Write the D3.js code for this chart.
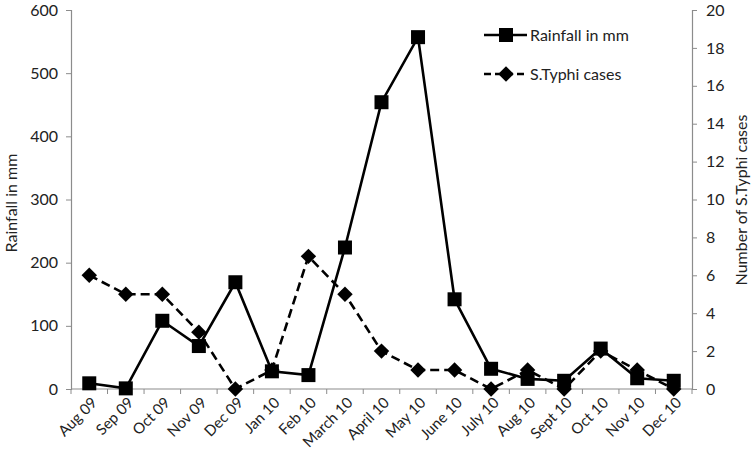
<!DOCTYPE html>
<html>
<head>
<meta charset="utf-8">
<script src="https://cdn.jsdelivr.net/npm/d3@7"></script>
<style>
body { margin:0; background:#fff; }
text { font-family: Lato, "Open Sans", sans-serif; fill:#222; }
</style>
</head>
<body>
<script>
var months = ['Aug 09','Sep 09','Oct 09','Nov 09','Dec 09','Jan 10','Feb 10','March 10','April 10',
  'May 10','June 10','July 10','Aug 10','Sept 10','Oct 10','Nov 10','Dec 10'];
var rainfall = [9, 1, 108, 68, 169, 28, 22, 224, 454, 557, 142, 32, 16, 13, 64, 17, 13];
var cases = [6, 5, 5, 3, 0, 1, 7, 5, 2, 1, 1, 0, 1, 0, 2, 1, 0];
var rainTicks = [0, 100, 200, 300, 400, 500, 600];
var caseTicks = [0, 2, 4, 6, 8, 10, 12, 14, 16, 18, 20];

var params = {width:754, height:463, left:71, right:692, top:10, bottom:389};

var svg = d3.select('body').append('svg')
  .attr('width', params.width).attr('height', params.height);

var x = d3.scaleBand().domain(months).range([params.left, params.right]);
var yL = d3.scaleLinear().domain([0, 600]).range([params.bottom, params.top]);
var yR = d3.scaleLinear().domain([0, 20]).range([params.bottom, params.top]);
var cx = function(d, i) { return x(months[i]) + x.bandwidth() / 2; };

// axes
var axisCol = '#8c8c8c';
var gl = svg.append('g').attr('transform', 'translate(' + params.left + ',0)')
  .call(d3.axisLeft(yL).tickValues(rainTicks).tickSize(5).tickPadding(8));
var gr = svg.append('g').attr('transform', 'translate(' + params.right + ',0)')
  .call(d3.axisRight(yR).tickValues(caseTicks).tickSize(5).tickPadding(9));
[gl, gr].forEach(function(g) {
  g.select('.domain').attr('stroke', axisCol).attr('stroke-width', 1.2);
  g.selectAll('.tick line').attr('stroke', axisCol);
  g.selectAll('.tick text').style('font-size', '16px').attr('fill', '#222');
});

// x axis: ticks on category boundaries
var gx = svg.append('g');
gx.append('line').attr('x1', params.left).attr('x2', params.right)
  .attr('y1', params.bottom).attr('y2', params.bottom)
  .attr('stroke', axisCol).attr('stroke-width', 1.2);
gx.selectAll('.bt').data(months.concat(['end'])).enter().append('line')
  .attr('x1', function(d, i) { return params.left + i * x.bandwidth(); })
  .attr('x2', function(d, i) { return params.left + i * x.bandwidth(); })
  .attr('y1', params.bottom).attr('y2', params.bottom + 5)
  .attr('stroke', axisCol);
gx.selectAll('.lbl').data(months).enter().append('text')
  .attr('transform', function(d, i) { return 'translate(' + (cx(d, i) + 5) + ',' + (params.bottom + 11) + ') rotate(-45)'; })
  .attr('text-anchor', 'end').attr('dy', '0.35em')
  .style('font-size', '15px').text(function(d) { return d; });

// axis titles
svg.append('text').attr('transform', 'translate(11,203) rotate(-90)')
  .attr('text-anchor', 'middle').attr('dy', '0.35em').style('font-size', '16px').text('Rainfall in mm');
svg.append('text').attr('transform', 'translate(741,200) rotate(-90)')
  .attr('text-anchor', 'middle').attr('dy', '0.35em').style('font-size', '16px').text('Number of S.Typhi cases');

// lines
var lineR = d3.line().x(cx).y(function(d) { return yL(d); });
var lineC = d3.line().x(cx).y(function(d) { return yR(d); });

svg.append('path').datum(cases).attr('d', lineC)
  .attr('fill', 'none').attr('stroke', '#000').attr('stroke-width', 2.6).attr('stroke-dasharray', '9,5');
svg.append('path').datum(rainfall).attr('d', lineR)
  .attr('fill', 'none').attr('stroke', '#000').attr('stroke-width', 2.6);

var sq = 14, dm = 13;
svg.selectAll('.sq').data(rainfall).enter().append('rect')
  .attr('x', function(d, i) { return cx(d, i) - sq / 2; })
  .attr('y', function(d) { return yL(d) - sq / 2; })
  .attr('width', sq).attr('height', sq).attr('fill', '#000');
var diamond = d3.symbol().type(d3.symbolDiamond2).size(dm * dm * 0.9);
svg.selectAll('.dm').data(cases).enter().append('path')
  .attr('d', diamond)
  .attr('transform', function(d, i) { return 'translate(' + cx(d, i) + ',' + yR(d) + ')'; })
  .attr('fill', '#000');

// legend
var lg = svg.append('g');
lg.append('line').attr('x1', 484).attr('x2', 527).attr('y1', 35).attr('y2', 35)
  .attr('stroke', '#000').attr('stroke-width', 2.6);
lg.append('rect').attr('x', 499).attr('y', 28).attr('width', sq).attr('height', sq).attr('fill', '#000');
lg.append('text').attr('x', 530).attr('y', 35).attr('dy', '0.35em').style('font-size', '16px').text('Rainfall in mm');
lg.append('line').attr('x1', 484).attr('x2', 527).attr('y1', 74).attr('y2', 74)
  .attr('stroke', '#000').attr('stroke-width', 2.6).attr('stroke-dasharray', '7,4');
lg.append('path').attr('d', diamond).attr('transform', 'translate(506,74)').attr('fill', '#000');
lg.append('text').attr('x', 530).attr('y', 74).attr('dy', '0.35em').style('font-size', '16px').text('S.Typhi cases');
</script>
</body>
</html>
